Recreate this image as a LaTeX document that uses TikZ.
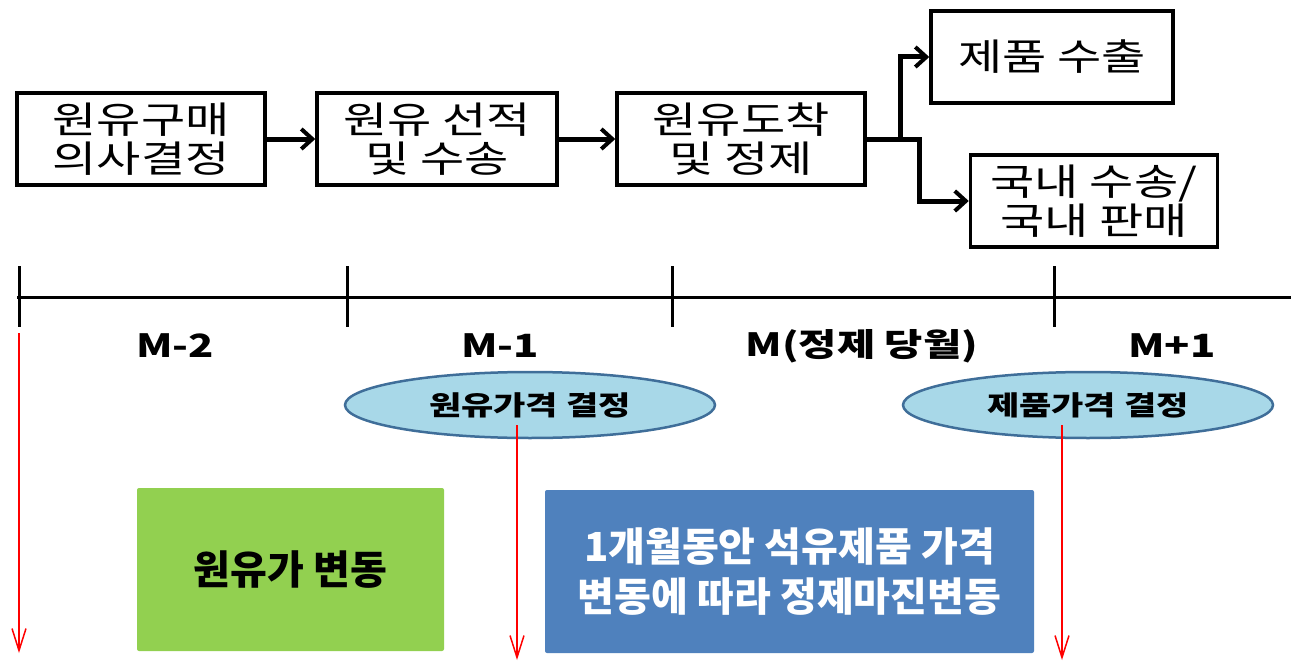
\documentclass[tikz,border=0pt]{standalone}
\usepackage{fontspec}
\usetikzlibrary{arrows.meta,shapes.geometric}
\newfontfamily\krs[FakeStretch=1.3]{Noto Sans CJK KR}
\newfontfamily\krn{Noto Sans CJK KR}
\definecolor{ellfill}{HTML}{A8D8E8}
\definecolor{elldraw}{HTML}{3F6E99}
\definecolor{grn}{HTML}{92D050}
\definecolor{blu}{HTML}{4F81BD}
\tikzset{
  procbox/.style={draw=black, line width=3.5pt, fill=white, align=center, inner sep=0pt,
    font=\krs\fontsize{37}{39}\selectfont},
  flowarr/.style={draw=black, line width=5pt, -{Straight Barb[length=11pt,width=20pt,line width=4pt]}},
  tline/.style={draw=black, line width=3pt},
  mlabel/.style={font=\krs\bfseries\fontsize{32}{34}\selectfont, inner sep=0pt},
  priceell/.style={ellipse, draw=elldraw, line width=2.5pt, fill=ellfill, inner sep=0pt,
    minimum width=370pt, minimum height=66pt,
    font=\krs\bfseries\fontsize{27}{29}\selectfont},
  redarr/.style={draw=red, line width=1.5pt, -{Straight Barb[length=22pt,width=14pt,line width=1.5pt]}},
  colbox/.style={draw=none, inner sep=0pt, align=center, rounded corners=2pt}
}
\begin{document}
\begin{tikzpicture}[x=1pt,y=-1pt]
\useasboundingbox (0,0) rectangle (1291,661);
\fill[white] (0,0) rectangle (1291,661);

% process boxes
\node[procbox, minimum width=248pt, minimum height=92pt] (b1) at (141,139) {원유구매\\의사결정};
\node[procbox, minimum width=240pt, minimum height=92pt] (b2) at (437,139) {원유 선적\\및 수송};
\node[procbox, minimum width=248pt, minimum height=92pt] (b3) at (741,139) {원유도착\\및 정제};
\node[procbox, minimum width=242pt, minimum height=92pt] (b4) at (1052,57) {제품 수출};
\node[procbox, minimum width=247pt, minimum height=92pt] (b5) at (1094,201) {국내 수송/\\국내 판매};

\draw[flowarr] (b1) -- (b2);
\draw[flowarr] (b2) -- (b3);
\draw[flowarr] (b3.east) -- ++(34,0) |- (b4.west);
\draw[flowarr] (b3.east) -- ++(53,0) |- (b5.west);

% timeline
\coordinate (tl0) at (17,297);
\coordinate (tl1) at (1291,297);
\draw[tline] (tl0) -- (tl1);
\foreach \x/\n in {19/t0,347/t1,672/t2,1054/t3}{
  \coordinate (\n a) at (\x,266);
  \coordinate (\n b) at (\x,327);
  \draw[tline] (\n a) -- (\n b);
}

\node[mlabel] (m2) at (175,346) {M-2};
\node[mlabel] (m1) at (500,346) {M-1};
\node[mlabel] (m0) at (862,346) {M(정제 당월)};
\node[mlabel] (mp) at (1172,346) {M+1};

% ellipses
\node[priceell] (e1) at (530,405) {원유가격 결정};
\node[priceell] (e2) at (1088,405) {제품가격 결정};

% colored boxes
\node[colbox, fill=grn, minimum width=307pt, minimum height=163pt,
  font=\krn\bfseries\fontsize{40}{42}\selectfont] (g) at (290.5,569.5) {원유가 변동};
\node[colbox, fill=blu, text=white, minimum width=489pt, minimum height=163pt,
  font=\krn\bfseries\fontsize{40}{50}\selectfont] (bl) at (789.5,571.5) {1개월동안 석유제품 가격\\변동에 따라 정제마진변동};

% red arrows
\coordinate (r0s) at (19,333);
\coordinate (r0e) at (19,653);
\coordinate (r1s) at (517,425);
\coordinate (r1e) at (517,660);
\coordinate (r2s) at (1062,425);
\coordinate (r2e) at (1062,660);
\draw[redarr] (r0s) -- (r0e);
\draw[redarr] (r1s) -- (r1e);
\draw[redarr] (r2s) -- (r2e);
\end{tikzpicture}
\end{document}
